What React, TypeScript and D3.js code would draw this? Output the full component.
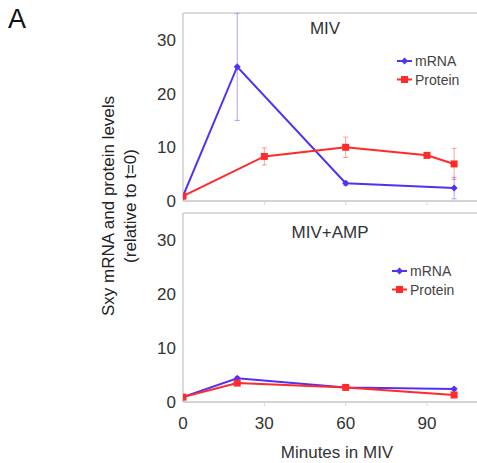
import React from "react";
import * as d3 from "d3";

// minutes sampled
const mrnaMinutes = [0, 20, 60, 100];
const proteinMinutes = [0, 30, 60, 90, 100];
const ampMinutes = [0, 20, 60, 100];

// MIV panel
const mrnaMIV = [0.9, 25, 3.3, 2.4];
const mrnaMIVErr = [0, 10, 0.4, 2];
const proteinMIV = [0.9, 8.3, 10, 8.5, 6.9];
const proteinMIVErr = [0, 1.6, 1.9, 0.5, 2.9];

// MIV+AMP panel
const mrnaAMP = [0.9, 4.4, 2.7, 2.4];
const mrnaAMPErr = [0, 0.3, 0.2, 0.3];
const proteinAMP = [0.9, 3.5, 2.7, 1.3];
const proteinAMPErr = [0, 0.3, 0.2, 0.3];

const xTicks = [0, 30, 60, 90];
const yTicks = [0, 10, 20, 30];

const BLUE = "#5231f5";
const RED = "#ff2b2b";
const FONT = "'Liberation Sans', Arial, Helvetica, sans-serif";

const x = d3.scaleLinear().domain([0, 90]).range([183, 427]);

type Series = { xs: number[]; ys: number[]; err: number[]; color: string; marker: "diamond" | "square" };

const Marker = ({ cx, cy, color, kind }: { cx: number; cy: number; color: string; kind: string }) =>
  kind === "square" ? (
    <rect x={cx - 3.5} y={cy - 3.5} width={7} height={7} fill={color} />
  ) : (
    <path d={`M${cx},${cy - 3.5}L${cx + 3.5},${cy}L${cx},${cy + 3.5}L${cx - 3.5},${cy}Z`} fill={color} />
  );

const Panel = ({
  top,
  bottom,
  title,
  titleX,
  titleY,
  legendX,
  legendY,
  series,
  id,
}: {
  top: number;
  bottom: number;
  title: string;
  titleX: number;
  titleY: number;
  legendX: number;
  legendY: number;
  series: Series[];
  id: string;
}) => {
  const y = d3.scaleLinear().domain([0, 35]).range([bottom, top]);
  const line = d3.line<[number, number]>().x((d) => x(d[0])).y((d) => y(d[1]));
  const left = x(0);
  return (
    <g>
      <defs>
        <clipPath id={id}>
          <rect x={left} y={top} width={477 - left} height={bottom - top} />
        </clipPath>
      </defs>
      {/* frame */}
      <line x1={left} x2={477} y1={top} y2={top} stroke="#cfcfcf" strokeWidth={1.5} />
      <line x1={left} x2={left} y1={top} y2={bottom} stroke="#cfcfcf" strokeWidth={1.5} />
      <line x1={left} x2={477} y1={bottom} y2={bottom} stroke="#c4c4c4" strokeWidth={1.5} />
      {xTicks.slice(1).map((t) => (
        <line key={t} x1={x(t)} x2={x(t)} y1={bottom} y2={bottom + 4} stroke="#d8d8d8" />
      ))}
      {yTicks.map((t) => (
        <text key={t} x={176} y={y(t)} dy="0.36em" textAnchor="end" fontSize={17} fill="#333" fontFamily={FONT}>
          {t}
        </text>
      ))}
      <text x={titleX} y={titleY} textAnchor="middle" fontSize={17} fill="#333" fontFamily={FONT}>
        {title}
      </text>
      <g clipPath={`url(#${id})`}>
        {series.map((s, i) => (
          <g key={i}>
            {s.xs.map((m, j) =>
              s.err[j] > 0 ? (
                <g key={j} stroke={s.color} strokeOpacity={0.45} strokeWidth={1}>
                  <line x1={x(m)} x2={x(m)} y1={y(s.ys[j] - s.err[j])} y2={y(s.ys[j] + s.err[j])} />
                  <line x1={x(m) - 2.5} x2={x(m) + 2.5} y1={y(s.ys[j] - s.err[j])} y2={y(s.ys[j] - s.err[j])} />
                  <line x1={x(m) - 2.5} x2={x(m) + 2.5} y1={y(s.ys[j] + s.err[j])} y2={y(s.ys[j] + s.err[j])} />
                </g>
              ) : null
            )}
            <path
              d={line(s.xs.map((m, j) => [m, s.ys[j]] as [number, number])) || ""}
              fill="none"
              stroke={s.color}
              strokeWidth={2}
            />
            {s.xs.map((m, j) => (
              <Marker key={j} cx={x(m)} cy={y(s.ys[j])} color={s.color} kind={s.marker} />
            ))}
          </g>
        ))}
      </g>
      {/* legend */}
      {[
        { label: "mRNA", color: BLUE, kind: "diamond" },
        { label: "Protein", color: RED, kind: "square" },
      ].map((l, i) => (
        <g key={l.label} transform={`translate(${legendX},${legendY + i * 18.5})`}>
          <line x1={0} x2={15} y1={0} y2={0} stroke={l.color} strokeWidth={2} />
          <Marker cx={7.5} cy={0} color={l.color} kind={l.kind} />
          <text x={18} y={0} dy="0.36em" fontSize={14} fill="#444" fontFamily={FONT}>
            {l.label}
          </text>
        </g>
      ))}
    </g>
  );
};

export default function App() {
  return (
    <svg
      width={477}
      height={463}
      style={{ position: "absolute", left: 0, top: 0, background: "#fff" }}
    >
      <text x={8} y={28} fontSize={27} fill="#111" fontFamily={FONT}>
        A
      </text>
      <Panel
        id="clipTop"
        top={13}
        bottom={201}
        title="MIV"
        titleX={325}
        titleY={34}
        legendX={397}
        legendY={61}
        series={[
          { xs: mrnaMinutes, ys: mrnaMIV, err: mrnaMIVErr, color: BLUE, marker: "diamond" },
          { xs: proteinMinutes, ys: proteinMIV, err: proteinMIVErr, color: RED, marker: "square" },
        ]}
      />
      <Panel
        id="clipBottom"
        top={213}
        bottom={402}
        title="MIV+AMP"
        titleX={330}
        titleY={238}
        legendX={392}
        legendY={271}
        series={[
          { xs: ampMinutes, ys: mrnaAMP, err: mrnaAMPErr, color: BLUE, marker: "diamond" },
          { xs: ampMinutes, ys: proteinAMP, err: proteinAMPErr, color: RED, marker: "square" },
        ]}
      />
      {xTicks.map((t) => (
        <text key={t} x={x(t)} y={429} textAnchor="middle" fontSize={17} fill="#333" fontFamily={FONT}>
          {t}
        </text>
      ))}
      <text
        transform="translate(114,206) rotate(-90)"
        textAnchor="middle"
        fontSize={17}
        fill="#222"
        fontFamily={FONT}
      >
        <tspan x={0} y={0}>Sxy mRNA and protein levels</tspan>
        <tspan x={0} y={22}>(relative to t=0)</tspan>
      </text>
      <text x={337} y={458} textAnchor="middle" fontSize={17} fill="#333" fontFamily={FONT}>
        Minutes in MIV
      </text>
    </svg>
  );
}
